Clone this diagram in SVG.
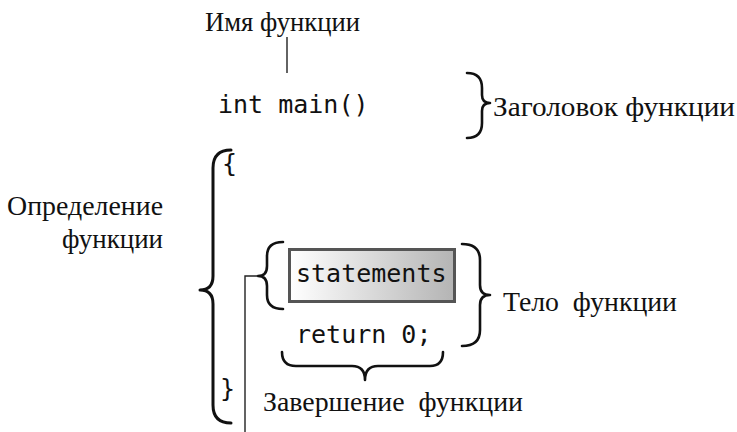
<svg xmlns="http://www.w3.org/2000/svg" width="737" height="432" viewBox="0 0 737 432">
<style>
.serif{font-family:'Liberation Serif',Tinos,'Times New Roman','Noto Serif','DejaVu Serif',FreeSerif,Times,serif;font-size:28px;fill:#111}
.mono{font-family:'DejaVu Sans Mono','Liberation Mono',monospace;font-size:25px;fill:#111}
.brace{fill:none;stroke:#111;stroke-width:2.6;stroke-linecap:round;stroke-linejoin:round}
.conn{fill:none;stroke:#222;stroke-width:1.4}
</style>
<defs>
<linearGradient id="boxgrad" x1="0" y1="0" x2="1" y2="0">
<stop offset="0" stop-color="#ffffff"/>
<stop offset="1" stop-color="#b4b4b4"/>
</linearGradient>
</defs>
<rect width="737" height="432" fill="#ffffff"/>
<g id="label-name"><text class="serif" x="205" y="31" textLength="155" lengthAdjust="spacingAndGlyphs">Имя функции</text></g>
<g id="code-header"><text class="mono" x="218" y="113">int main()</text></g>
<g id="label-header">
<path class="brace" d="M467,73 Q482,73 482,88 L482,95 Q482,103 490,103 Q482,103 482,111 L482,123 Q482,138 467,138"/>
<text class="serif" x="493" y="116" textLength="242" lengthAdjust="spacingAndGlyphs">Заголовок функции</text>
</g>
<g id="label-definition">
<text class="serif" x="7" y="215" textLength="156" lengthAdjust="spacingAndGlyphs">Определение</text>
<text class="serif" x="62" y="248" textLength="101" lengthAdjust="spacingAndGlyphs">функции</text>
<path class="brace" style="stroke-width:3" d="M231,150 Q213,150 213,168 L213,276 Q213,290 200,290 Q213,290 213,304 L213,405 Q213,423 231,423"/>
</g>
<g id="code-open"><text class="mono" x="222" y="172">{</text></g>
<g id="statements">
<rect x="289.5" y="249.5" width="165" height="52" fill="url(#boxgrad)" stroke="#555" stroke-width="3"/>
<text class="mono" x="296" y="282">statements</text>
</g>
<g id="inner-brace">
<path class="brace" d="M283,242 Q267,242 267,256 L267,266 Q267,276 258,276 Q267,276 267,286 L267,295 Q267,309 283,309"/>
</g>
<g id="code-return">
<text class="mono" x="296" y="343">return 0;</text>
<path class="brace" d="M282,352 Q282,366 296,366 L352,366 Q365,366 365,380 Q365,366 378,366 L430,366 Q443,366 443,352"/>
</g>
<g id="label-body">
<path class="brace" d="M462,244 Q480,244 480,260 L480,285 Q480,295 490,295 Q480,295 480,305 L480,330 Q480,346 462,346"/>
<text class="serif" x="503" y="311" xml:space="preserve" textLength="174" lengthAdjust="spacingAndGlyphs">Тело  функции</text>
</g>
<g id="code-close"><text class="mono" x="220" y="397">}</text></g>
<g id="label-end"><text class="serif" x="263" y="411" xml:space="preserve" textLength="260" lengthAdjust="spacingAndGlyphs">Завершение  функции</text></g>
<g id="connectors">
<line class="conn" x1="287" y1="37" x2="287" y2="73"/>
<polyline class="conn" points="258,276 245,276 245,432"/>
</g>
</svg>
